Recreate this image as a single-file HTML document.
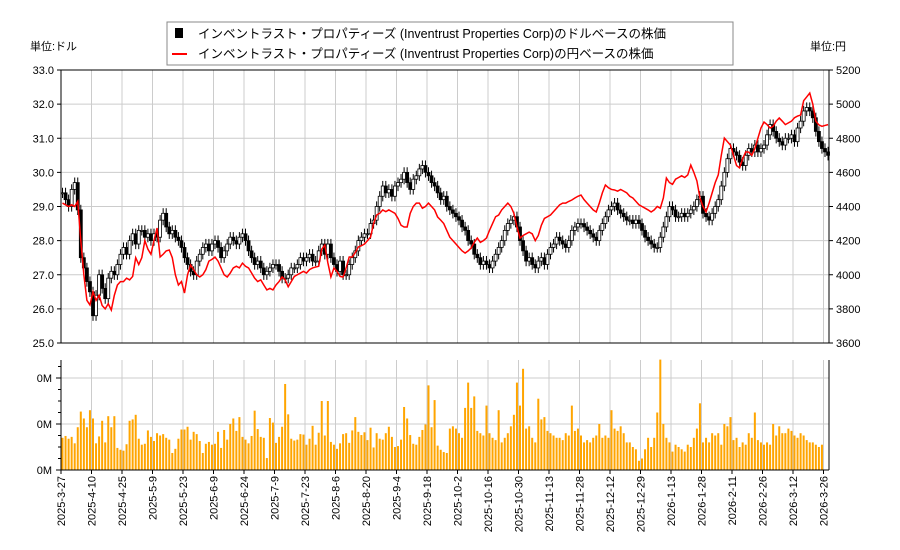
<!DOCTYPE html>
<html><head><meta charset="utf-8"><style>
body{margin:0;background:#fff;}
svg{display:block;font-family:"Liberation Sans","Noto Sans CJK JP",sans-serif;}
</style></head><body>
<svg id="c" width="900" height="550"></svg>
<script>
const dates=["2025-3-27","2025-4-10","2025-4-25","2025-5-9","2025-5-23","2025-6-9","2025-6-24","2025-7-9","2025-7-23","2025-8-6","2025-8-20","2025-9-4","2025-9-18","2025-10-2","2025-10-16","2025-10-30","2025-11-13","2025-11-28","2025-12-12","2025-12-29","2026-1-13","2026-1-28","2026-2-11","2026-2-26","2026-3-12","2026-3-26"];
const usdTicks=[25,26,27,28,29,30,31,32,33];
const jpyTicks=[3600,3800,4000,4200,4400,4600,4800,5000,5200];
const volTicks=[0,1,2];
const volLabels=["0M","0M","0M"];
const closes=[29.4,29.2,29.0,29.5,29.7,28.9,27.5,27.2,26.8,26.5,
25.8,26.4,27.0,26.6,26.3,26.9,27.1,27.0,27.3,27.6,
27.8,27.6,28.0,28.2,27.9,28.3,28.3,28.1,28.2,28.0,
28.2,28.1,28.6,28.8,28.4,28.2,28.3,28.1,28.0,27.8,
27.5,27.3,27.1,27.0,27.4,27.6,27.8,27.9,27.7,27.9,
28.0,27.8,27.5,27.7,27.9,28.1,28.0,27.9,28.1,28.2,
28.0,27.7,27.5,27.3,27.4,27.2,27.0,27.1,27.2,27.3,
27.3,27.1,26.9,26.9,27.0,27.2,27.2,27.3,27.5,27.4,
27.5,27.6,27.4,27.4,27.7,27.9,27.6,27.9,27.5,27.3,
27.1,27.4,27.0,27.0,27.3,27.5,27.7,28.0,28.1,28.2,
28.2,28.5,28.6,29.0,29.3,29.6,29.4,29.5,29.3,29.6,
29.7,29.8,30.0,29.7,29.5,29.8,29.9,30.1,30.2,30.0,
29.9,29.7,29.6,29.4,29.2,29.3,29.0,28.9,28.8,28.7,
28.6,28.4,28.3,28.0,27.9,27.6,27.5,27.3,27.4,27.3,
27.2,27.4,27.6,27.8,28.0,28.3,28.5,28.6,28.7,28.4,
28.0,27.7,27.4,27.5,27.3,27.2,27.4,27.5,27.3,27.6,
27.8,27.9,28.1,28.0,27.9,27.8,28.0,28.3,28.4,28.5,
28.5,28.4,28.3,28.2,28.1,28.0,28.3,28.5,28.7,28.9,
29.0,29.1,28.9,28.8,28.7,28.6,28.6,28.5,28.6,28.5,
28.3,28.1,28.0,27.9,27.8,27.8,28.1,28.4,28.7,29.0,
28.9,28.7,28.7,28.8,28.7,28.8,28.9,29.0,29.2,29.3,
28.8,28.7,28.6,28.8,29.0,29.2,29.6,30.0,30.4,30.7,
30.6,30.5,30.3,30.2,30.5,30.7,30.6,30.8,30.6,30.7,
30.8,31.1,31.4,31.2,31.0,30.9,30.8,31.0,31.0,31.1,
30.9,31.3,31.5,31.8,31.9,31.8,31.6,31.2,30.9,30.7,
30.6,30.5];
const yen=[4420,4410,4400,4410,4400,4430,4200,4000,3850,3823,
3900,3850,3880,3820,3800,3830,3793,3880,3940,3960,
3960,3980,3970,3990,4100,4060,4100,4200,4150,4120,
4200,4274,4104,4120,4140,4145,4100,4000,3940,3960,
3893,4000,4057,4030,4000,3987,4000,4030,4080,4090,
4104,4080,4040,4000,3987,4010,4040,4050,4040,4068,
4050,4040,4010,3980,3960,3970,3940,3911,3920,3911,
3940,3960,3987,3970,3930,3960,3990,4000,4010,4020,
4010,4030,4040,4045,4050,4150,4174,4070,3987,4040,
4020,3990,3987,4040,4104,4104,4130,4163,4170,4180,
4200,4221,4300,4350,4360,4380,4370,4380,4370,4360,
4330,4290,4280,4280,4360,4400,4420,4420,4390,4400,
4420,4400,4380,4338,4320,4300,4260,4220,4200,4180,
4160,4140,4127,4140,4157,4190,4215,4190,4200,4215,
4260,4300,4340,4350,4380,4400,4420,4400,4360,4280,
4215,4230,4240,4250,4240,4200,4230,4290,4330,4340,
4350,4370,4390,4410,4420,4420,4430,4438,4450,4460,
4467,4440,4420,4400,4380,4368,4420,4480,4526,4510,
4500,4497,4490,4500,4490,4480,4460,4450,4430,4410,
4400,4390,4380,4368,4380,4400,4390,4450,4567,4540,
4530,4560,4570,4580,4570,4585,4643,4600,4550,4450,
4400,4368,4420,4480,4540,4585,4700,4801,4780,4760,
4700,4640,4626,4680,4720,4719,4700,4740,4800,4860,
4895,4880,4860,4870,4900,4919,4900,4880,4890,4900,
4920,4930,4936,5020,5042,5065,5000,4900,4878,4870,
4875,4880];
const volumes=[0.7,0.74,0.68,0.72,0.58,0.93,1.27,1.12,0.93,1.3,1.12,0.58,0.73,1.07,0.6,1.17,0.93,1.17,0.48,0.44,0.42,0.56,1.07,1.1,1.2,0.68,0.55,0.57,0.86,0.72,0.63,0.8,0.75,0.78,0.7,0.66,0.37,0.46,0.68,0.88,0.88,0.94,0.66,0.83,0.78,0.63,0.37,0.57,0.61,0.55,0.57,0.83,0.48,0.87,0.66,1.0,1.12,0.85,1.15,0.72,0.66,0.58,0.74,1.29,0.89,0.72,0.7,0.26,1.13,1.03,0.59,0.72,0.94,1.87,1.21,0.68,0.64,0.66,0.78,0.77,0.55,0.68,0.96,0.55,0.81,1.5,0.75,1.5,0.61,0.55,0.46,0.58,0.78,0.8,0.59,0.86,1.15,0.83,0.76,0.82,0.65,0.92,0.49,0.8,0.68,0.66,0.8,0.94,0.72,0.5,0.52,0.66,1.37,1.12,0.76,0.57,0.55,0.72,0.87,0.99,1.84,0.93,1.52,0.53,0.44,0.39,0.37,
0.9,0.95,0.9,0.8,0.7,1.35,1.9,1.35,1.6,0.85,0.8,0.75,1.4,0.8,0.7,0.65,1.3,0.6,0.7,0.8,0.95,1.2,1.9,1.4,2.2,0.9,0.95,0.7,0.6,1.55,1.1,1.15,0.85,0.8,0.75,0.7,0.7,0.65,0.8,0.75,1.4,0.85,0.9,0.75,0.6,0.65,0.6,0.7,0.75,1.0,0.7,0.75,0.7,1.3,0.9,0.85,0.95,0.8,0.6,0.6,0.5,0.45,0.2,0.25,0.45,0.7,0.5,0.7,1.25,2.4,1.0,0.7,0.6,0.4,0.55,0.5,0.45,0.4,0.55,0.5,0.7,0.9,1.45,0.6,0.7,0.6,0.8,0.75,0.8,0.55,1.0,0.95,1.15,0.65,0.7,0.5,0.6,0.55,0.8,0.7,1.25,0.65,0.6,0.55,0.6,0.55,1.0,0.75,0.95,0.8,0.8,0.9,0.85,0.75,0.7,0.8,0.75,0.65,0.6,0.6,0.55,0.5,0.55];

const NS="http://www.w3.org/2000/svg";
const svg=document.getElementById('c');
const L=61,R=829,PT=70,PB=343,VT=360,VB=470;
const step=3.05;
const xOf=i=>L+1.5+i*step;
const yUsd=v=>PT+(33-v)*(PB-PT)/8;
const yJpy=v=>PT+(5200-v)*(PB-PT)/1600;
const yVol=v=>VB-v*46;
function el(t,a,p){const e=document.createElementNS(NS,t);for(const k in a)e.setAttribute(k,a[k]);(p||svg).appendChild(e);return e;}
function txt(s,x,y,a){const e=el('text',Object.assign({x:x,y:y,'font-size':11,fill:'#000'},a||{}));e.textContent=s;return e;}

// frames & grids
const grid=el('g',{});
usdTicks.forEach(v=>{el('line',{x1:L,x2:R,y1:yUsd(v),y2:yUsd(v),stroke:'#ccc'},grid);});
volTicks.forEach(v=>{el('line',{x1:L,x2:R,y1:yVol(v),y2:yVol(v),stroke:'#ccc'},grid);});
dates.forEach((d,k)=>{const x=L+k*30.5;el('line',{x1:x,x2:x,y1:PT,y2:PB,stroke:'#ccc'},grid);el('line',{x1:x,x2:x,y1:VT,y2:VB,stroke:'#ccc'},grid);});

// volume bars
const vg=el('g',{});
volumes.forEach((v,i)=>{const b=el('rect',{x:xOf(i)-1,y:yVol(v),width:2,height:v*46,fill:'#ffa500'},vg);

});

// candles
const cg=el('g',{});
closes.forEach((c,i)=>{const o=i?closes[i-1]:c;const hi=Math.max(o,c)+0.15,lo=Math.min(o,c)-0.15;const x=xOf(i);
el('line',{x1:x,x2:x,y1:yUsd(hi),y2:yUsd(lo),stroke:'#000','stroke-width':1},cg);
const top=yUsd(Math.max(o,c)),h=Math.max(1,Math.abs(yUsd(o)-yUsd(c)));
const r=el('rect',{x:x-1.5,y:top,width:3,height:h,fill:c<o?'#000':'#fff',stroke:'#000','stroke-width':0.8},cg);

});

// yen line
const pl=el('polyline',{points:yen.map((v,i)=>xOf(i)+','+yJpy(v)).join(' '),fill:'none',stroke:'#f00','stroke-width':1.5});



// axes
el('rect',{x:L,y:PT,width:R-L,height:PB-PT,fill:'none',stroke:'#000'});
el('line',{x1:L,x2:L,y1:VT,y2:VB,stroke:'#000'});
el('line',{x1:L,x2:R,y1:VB,y2:VB,stroke:'#000'});
el('line',{x1:R,x2:R,y1:VT,y2:VB,stroke:'#000'});
const ly=el('g',{});
usdTicks.forEach(v=>{const y=yUsd(v);el('line',{x1:L-4,x2:L,y1:y,y2:y,stroke:'#000'},ly);txt(v.toFixed(1),54,y+4,{'text-anchor':'end'}).remove();const t=txt(v.toFixed(1),54,y+4,{'text-anchor':'end'});ly.appendChild(t);});
const ry=el('g',{});
jpyTicks.forEach(v=>{const y=yJpy(v);el('line',{x1:R,x2:R+4,y1:y,y2:y,stroke:'#000'},ry);const t=txt(String(v),836,y+4);ry.appendChild(t);});
const vy=el('g',{});
for(let k=0;k<=10;k++){const y=VB-k*11.5;if(y<VT)break;el('line',{x1:L-3,x2:L,y1:y,y2:y,stroke:'#000'},vy);}
volTicks.forEach((v,k)=>{const y=yVol(v);el('line',{x1:L-5,x2:L,y1:y,y2:y,stroke:'#000'},vy);vy.appendChild(txt(volLabels[k],52,y+4,{'text-anchor':'end'}));});
const xg=el('g',{});
dates.forEach((d,k)=>{const x=L+k*30.5;el('line',{x1:x,x2:x,y1:VB,y2:VB+4,stroke:'#000'},xg);xg.appendChild(txt(d,0,0,{transform:`translate(${x+4},${VB+6}) rotate(-90)`,'text-anchor':'end'}));});

txt('単位:ドル',30,50);
txt('単位:円',810,50);

// legend
const lg=el('g',{});
el('rect',{x:167,y:22,width:566,height:43,fill:'#fff',stroke:'#888'},lg);
el('rect',{x:175,y:28,width:8,height:10,fill:'#000'},lg);
el('line',{x1:172,x2:187,y1:54,y2:54,stroke:'#f00','stroke-width':2},lg);
const l1=txt('インベントラスト・プロパティーズ (Inventrust Properties Corp)のドルベースの株価',198,38,{'font-size':12.5});lg.appendChild(l1);

const l2=txt('インベントラスト・プロパティーズ (Inventrust Properties Corp)の円ベースの株価',198,58,{'font-size':12.5});lg.appendChild(l2);

</script>
</body></html>
